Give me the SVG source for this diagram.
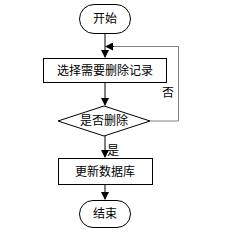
<svg xmlns="http://www.w3.org/2000/svg" width="248" height="234" viewBox="0 0 248 234">
<style>
.n{fill:#fff;stroke:#000;stroke-width:1}
.t{font-family:"Liberation Sans","Noto Sans CJK SC",sans-serif;font-size:12px;fill:#000;text-anchor:middle}
.c{fill:none;stroke:#000;stroke-width:1}
.g{fill:none;stroke:#808080;stroke-width:1}
</style>
<defs>
<marker id="a" markerWidth="8" markerHeight="8" refX="7" refY="4" orient="auto" markerUnits="userSpaceOnUse">
<path d="M0,0 L8,4 L0,8 Z" fill="#000"/>
</marker>
</defs>
<g id="connectors">
<path class="c" d="M105,33 V57" marker-end="url(#a)"/>
<path class="c" d="M105,82 V105" marker-end="url(#a)"/>
<path class="g" d="M150,121 H178.5 V46.5 H113"/>
<path class="c" d="M114,46.5 H106" marker-end="url(#a)"/>
<path class="c" d="M105,136 V157" marker-end="url(#a)"/>
<path class="c" d="M105,184 V199" marker-end="url(#a)"/>
<text class="t" x="168" y="97">否</text>
<text class="t" x="113" y="155">是</text>
</g>
<g id="start">
<rect class="n" x="79.5" y="4.5" width="51" height="29" rx="14.5"/>
<text class="t" x="105" y="23">开始</text>
</g>
<g id="select">
<rect class="n" x="43.5" y="58.5" width="123" height="24"/>
<text class="t" x="105" y="75">选择需要删除记录</text>
</g>
<g id="decision">
<path class="n" d="M104,106 L150,121 L104,136 L58,121 Z"/>
<text class="t" x="104" y="125">是否删除</text>
</g>
<g id="update">
<rect class="n" x="58.5" y="158.5" width="94" height="26"/>
<text class="t" x="105" y="176">更新数据库</text>
</g>
<g id="end">
<rect class="n" x="79.5" y="200.5" width="51" height="27" rx="13.5"/>
<text class="t" x="105" y="218">结束</text>
</g>
</svg>
